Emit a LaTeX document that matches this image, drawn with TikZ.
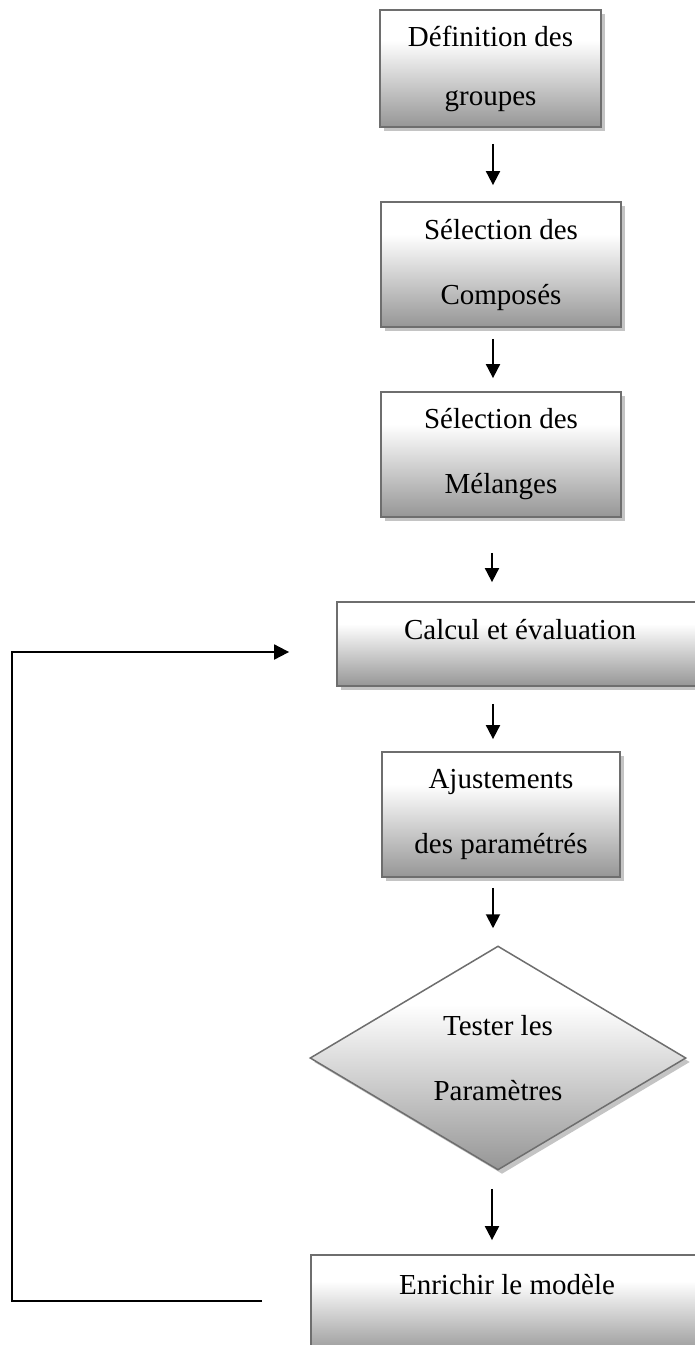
\documentclass[tikz,border=0pt]{standalone}
\usepackage{fontspec}
\setmainfont{Liberation Serif}
\usetikzlibrary{shapes.geometric,shadows,arrows.meta}
\definecolor{bordergray}{HTML}{6E6E6E}
\definecolor{shadowgray}{HTML}{C4C4C4}
\definecolor{shadebottom}{HTML}{969696}
\pgfdeclareverticalshading{boxshade}{100bp}{color(0bp)=(shadebottom); color(25bp)=(shadebottom); color(62bp)=(white); color(100bp)=(white)}
\tikzset{
  flowbox/.style={rectangle, draw=bordergray, line width=1.8pt, shading=boxshade,
    general shadow={fill=shadowgray, shadow xshift=4pt, shadow yshift=-4pt},
    inner sep=0pt, align=center, font={\fontsize{29}{65}\selectfont}},
  flowdiamond/.style={diamond, draw=bordergray, line width=1.5pt, shading=boxshade,
    general shadow={fill=shadowgray, shadow xshift=4pt, shadow yshift=-4pt},
    inner sep=0pt, align=center, font={\fontsize{29}{65}\selectfont}},
  arr/.style={draw=black, line width=1.9pt, -{Triangle[length=14pt,width=14pt]}},
  loopline/.style={draw=black, line width=1.9pt, -{Triangle[length=15pt,width=15pt]}}
}
\begin{document}
\begin{tikzpicture}[x=1pt,y=-1pt]
\useasboundingbox (0,0) rectangle (695,1345);
\clip (0,0) rectangle (695,1345);
\fill[white] (0,0) rectangle (695,1345);

\node[flowbox, minimum width=221pt, minimum height=117pt] (b1) at (490.5,68.5)
  {Définition des\\[-6pt]groupes};
\node[flowbox, minimum width=240pt, minimum height=125pt] (b2) at (501,264.5)
  {Sélection des\\Composés};
\node[flowbox, minimum width=240pt, minimum height=125pt] (b3) at (501,454.5)
  {Sélection des\\Mélanges};
\node[flowbox, minimum width=366pt, minimum height=84pt] (b4) at (520,644)
  {\raisebox{14pt}[\height][\depth]{Calcul et évaluation}};
\node[flowbox, minimum width=238pt, minimum height=125pt] (b5) at (501,814.5)
  {Ajustements\\des paramétrés};
\node[flowdiamond, minimum width=376pt, minimum height=224pt, shape aspect=1.68] (d1) at (498,1058)
  {Tester les\\Paramètres};
\node[flowbox, minimum width=392pt, minimum height=100pt] (b6) at (507,1305)
  {\raisebox{20pt}[\height][\depth]{Enrichir le modèle}};

\draw[arr] ([xshift=2.5pt,yshift=-16pt]b1.south) -- ([xshift=-8pt,yshift=16pt]b2.north);
\draw[arr] ([xshift=-8pt,yshift=-11pt]b2.south) -- ([xshift=-8pt,yshift=13pt]b3.north);
\draw[arr] ([xshift=-9pt,yshift=-35pt]b3.south) -- ([xshift=-28pt,yshift=19pt]b4.north);
\draw[arr] ([xshift=-27pt,yshift=-17pt]b4.south) -- ([xshift=-8pt,yshift=12pt]b5.north);
\draw[arr] ([xshift=-8pt,yshift=-10pt]b5.south) -- ([xshift=-5pt,yshift=17pt]d1.north);
\draw[arr] ([xshift=-6pt,yshift=-18pt]d1.south) -- ([xshift=-15pt,yshift=14pt]b6.north);

\coordinate (l1) at ([xshift=-48pt]b6.west |- 0,1301);
\coordinate (lx) at (12,652);
\coordinate (l2) at ([xshift=-47pt]b4.west |- 0,652);
\draw[loopline] (l1) -| (lx) -- (l2);
\end{tikzpicture}
\end{document}
